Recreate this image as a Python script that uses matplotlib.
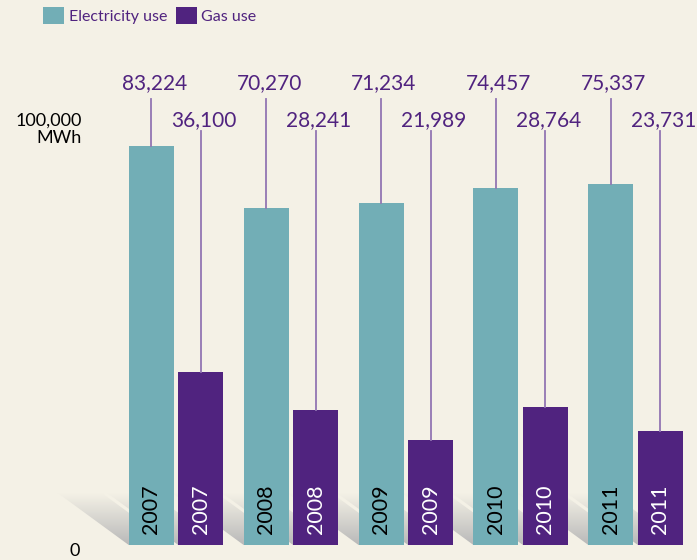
import numpy as np
import matplotlib
matplotlib.use("Agg")
import matplotlib.pyplot as plt
from matplotlib.path import Path
from matplotlib.patches import PathPatch, Rectangle

years = ["2007", "2008", "2009", "2010", "2011"]
electricity = [83224, 70270, 71234, 74457, 75337]
gas = [36100, 28241, 21989, 28764, 23731]
series_names = ["Electricity use", "Gas use"]

BG = "#f4f1e6"
TEAL = "#72aeb6"
PURPLE = "#50237f"
LINE = "#9276b3"

W, H = 697, 560
fig = plt.figure(figsize=(W / 100, H / 100), dpi=100, facecolor=BG)
plt.rcParams['font.family'] = ['Lato', 'DejaVu Sans']

# geometry (pixels)
base_px = 545
ppu = 399 / 83224.0          # pixels per MWh
group_px = 114.9
first_center_px = 176
ymax = base_px / ppu
x0 = -first_center_px / group_px
x1 = (W - first_center_px) / group_px

ax = fig.add_axes([0, (H - base_px) / H, 1, base_px / H])
ax.set_xlim(x0, x1)
ax.set_ylim(0, ymax)
ax.axis("off")
ax.set_facecolor(BG)

def py2y(py):
    return (base_px - py) / ppu

dx = 1 / group_px   # one pixel in x data

off = 0.2154
width = 45 * dx
x = np.arange(len(years))
xe = x - off
xg = x + off

# shadows
verts, codes = [], []
for lefts in (xe - width / 2, xg - width / 2):
    for L in lefts:
        poly = [(L - 71 * dx, py2y(493)), (L - 27 * dx, py2y(493)),
                (L + 10 * dx, py2y(520)), (L + 10 * dx, 0), (L, 0)]
        verts += poly + [poly[0]]
        codes += [Path.MOVETO] + [Path.LINETO] * (len(poly) - 1) + [Path.CLOSEPOLY]
clip = PathPatch(Path(verts, codes), transform=ax.transData, facecolor="none", edgecolor="none")
ax.add_patch(clip)
n = 100
t = np.linspace(0, 1, n)[:, None]
bg = np.array([244, 241, 230]) / 255
dark = np.array([185, 185, 185]) / 255
grad = (bg[None, :] * (1 - t) + dark[None, :] * t)[:, None, :]
grad = np.repeat(grad, 2, axis=1)
im = ax.imshow(grad, extent=(x0, x1, 0, py2y(493)), origin="upper",
               aspect="auto", zorder=1, interpolation="bilinear")
im.set_clip_path(clip)
ax.set_xlim(x0, x1)
ax.set_ylim(0, ymax)

ax.bar(xe, electricity, width=width, color=TEAL, zorder=2)
ax.bar(xg, gas, width=width, color=PURPLE, zorder=2)

for i in range(len(years)):
    # leader lines
    ax.plot([xe[i], xe[i]], [electricity[i], py2y(99)], color=LINE, lw=1.3, zorder=3)
    ax.plot([xg[i], xg[i]], [gas[i], py2y(131)], color=LINE, lw=1.3, zorder=3)
    ax.text(xe[i] + 3 * dx, py2y(83), f"{electricity[i]:,}", ha="center", va="center",
            fontsize=15, color=PURPLE)
    ax.text(xg[i] + 3 * dx, py2y(120), f"{gas[i]:,}", ha="center", va="center",
            fontsize=15, color=PURPLE)
    ax.text(xe[i], py2y(509), years[i], rotation=90, ha="center", va="center",
            fontsize=15.5, color="black", zorder=4)
    ax.text(xg[i], py2y(509), years[i], rotation=90, ha="center", va="center",
            fontsize=15.5, color="white", zorder=4)

# axis labels
fig.text(82 / W, 1 - 121 / H, "100,000", ha="right", va="center", fontsize=13, color="black")
fig.text(82 / W, 1 - 138 / H, "MWh", ha="right", va="center", fontsize=13, color="black")
fig.text(75 / W, 1 - 551 / H, "0", ha="center", va="center", fontsize=13, color="black")

# legend
fig.patches.append(Rectangle((43 / W, 1 - 24 / H), 21 / W, 17 / H, transform=fig.transFigure,
                             facecolor=TEAL, edgecolor="none"))
fig.text(69 / W, 1 - 17 / H, series_names[0], ha="left", va="center", fontsize=11.5, color=PURPLE)
fig.patches.append(Rectangle((176 / W, 1 - 24 / H), 21 / W, 17 / H, transform=fig.transFigure,
                             facecolor=PURPLE, edgecolor="none"))
fig.text(201 / W, 1 - 17 / H, series_names[1], ha="left", va="center", fontsize=11.5, color=PURPLE)

fig.savefig("out.png", dpi=100, facecolor=BG)
